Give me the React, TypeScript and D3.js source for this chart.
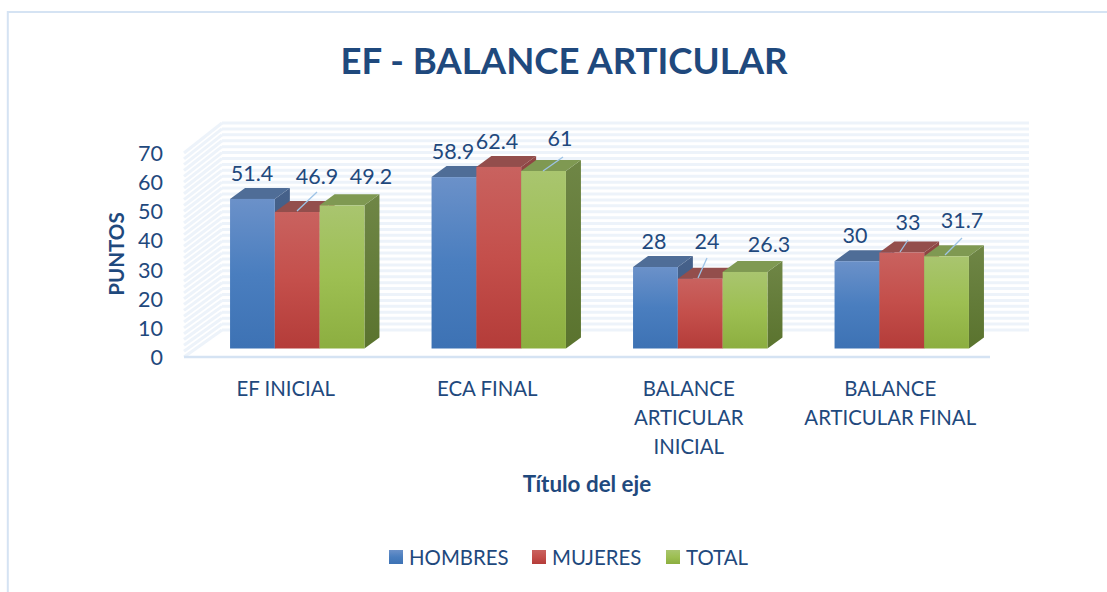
import React from "react";
import * as d3 from "d3";

const chartTitle = "EF - BALANCE ARTICULAR";
const yTitle = "PUNTOS";
const xTitle = "Título del eje";
const categories = ["EF INICIAL", "ECA FINAL", "BALANCE ARTICULAR INICIAL", "BALANCE ARTICULAR FINAL"];
const categoryLines = [["EF INICIAL"], ["ECA FINAL"], ["BALANCE", "ARTICULAR", "INICIAL"], ["BALANCE", "ARTICULAR FINAL"]];
const seriesNames = ["HOMBRES", "MUJERES", "TOTAL"];
const hombres = [51.4, 58.9, 28, 30];
const mujeres = [46.9, 62.4, 24, 33];
const total = [49.2, 61, 26.3, 31.7];
const seriesValues = [hombres, mujeres, total];
const yTicks = [0, 10, 20, 30, 40, 50, 60, 70];

const labelPos: [number, number][][] = [
  [[252, 173], [453, 151], [654, 241], [855, 235]],
  [[317, 176], [497, 141], [707, 241], [908, 222]],
  [[371, 176], [560, 138], [769, 244], [962, 220]],
];
// leader lines: [category, series, x1, y1, x2, y2]
const leaders = [
  [0, 1, 297, 211, 317, 192],
  [1, 2, 543, 171, 563, 157],
  [2, 1, 698, 278, 707, 258],
  [3, 1, 900, 252, 908, 240],
  [3, 2, 945, 255, 962, 238],
];

const palette = [
  { id: "b", stops: ["#6b91c9", "#4a7ebf", "#3d72b4"], top: "#4f6d97", side: ["#46618a", "#3b5a85"] },
  { id: "r", stops: ["#c9625f", "#c44f4b", "#b43c39"], top: "#934e4c", side: ["#8f4644", "#7c3432"] },
  { id: "g", stops: ["#a9c56f", "#9dbf52", "#8cae40"], top: "#7f9952", side: ["#6f8646", "#5a732e"] },
];

const TEXT = "#1f497d";
const FONT = "Lato, Carlito, Calibri, sans-serif";
const DX = 15;
const DY = -11;

export default function App() {
  const yBar = d3.scaleLinear().domain([0, 70]).range([348.5, 144.8]);
  const yAxis = d3.scaleLinear().domain([0, 70]).range([357, 153]);
  const yWall = d3.scaleLinear().domain([0, 70]).range([330, 123]);
  const xGroup = d3.scaleBand<number>().domain(d3.range(categories.length)).range([184, 990]);
  const barW = 44.8;
  const barLeft = (c: number, s: number) => (xGroup(c) as number) + xGroup.bandwidth() / 2 - 1.5 * barW + s * barW + 12.5;
  const floorY = yAxis(0);
  const stripes = yWall.ticks(35);

  return (
    <svg width={1107} height={592} style={{ position: "absolute", left: 0, top: 0, background: "#fff" }} fontFamily={FONT}>
      <defs>
        {palette.map((p) => (
          <React.Fragment key={p.id}>
            <linearGradient id={`f${p.id}`} x1="0" y1="0" x2="0" y2="1">
              <stop offset="0" stopColor={p.stops[0]} />
              <stop offset="0.5" stopColor={p.stops[1]} />
              <stop offset="1" stopColor={p.stops[2]} />
            </linearGradient>
            <linearGradient id={`s${p.id}`} x1="0" y1="0" x2="0" y2="1">
              <stop offset="0" stopColor={p.side[0]} />
              <stop offset="1" stopColor={p.side[1]} />
            </linearGradient>
          </React.Fragment>
        ))}
      </defs>

      <path d="M7.8 592V12H1107" fill="none" stroke="#d5e3f3" strokeWidth={2} />

      {stripes.map((t) => (
        <g key={t} stroke="#edf3fa" strokeWidth={3} fill="none">
          <line x1={222} x2={1029} y1={yWall(t)} y2={yWall(t)} />
          <line x1={184} x2={222} y1={yAxis(t)} y2={yWall(t)} />
        </g>
      ))}
      <line x1={184} x2={990} y1={floorY} y2={floorY} stroke="#d5e3f3" strokeWidth={2.4} />

      {categories.map((_, c) => (
        <g key={c}>
          {seriesValues.map((vals, s) => {
            const x0 = barLeft(c, s);
            const x1 = x0 + barW;
            const yT = yBar(vals[c]);
            const yB = yBar(0);
            const p = palette[s];
            return (
              <g key={s}>
                <path d={`M${x1} ${yT}L${x1 + DX} ${yT + DY}V${yB + DY}L${x1} ${yB}Z`} fill={`url(#s${p.id})`} />
                <path d={`M${x0} ${yT}L${x0 + DX} ${yT + DY}H${x1 + DX}L${x1} ${yT}Z`} fill={p.top} />
                <rect x={x0} y={yT} width={barW} height={yB - yT} fill={`url(#f${p.id})`} />
              </g>
            );
          })}
        </g>
      ))}

      {leaders.map((l, i) => (
        <line key={i} x1={l[2]} y1={l[3]} x2={l[4]} y2={l[5]} stroke="#9dc3e6" strokeWidth={1.3} />
      ))}

      {seriesValues.map((vals, s) =>
        vals.map((v, c) => (
          <text key={`${s}-${c}`} x={labelPos[s][c][0]} y={labelPos[s][c][1]} textAnchor="middle" dominantBaseline="central" fontSize={21.5} fill={TEXT}>
            {v}
          </text>
        ))
      )}

      <text x={564} y={60} textAnchor="middle" dominantBaseline="central" fontSize={36.6} fontWeight={700} fill={TEXT}>
        {chartTitle}
      </text>

      {yTicks.map((t) => (
        <text key={t} x={163} y={yAxis(t)} textAnchor="end" dominantBaseline="central" fontSize={21.5} fill={TEXT}>
          {t}
        </text>
      ))}
      <text transform="translate(116,254) rotate(-90)" textAnchor="middle" dominantBaseline="central" fontSize={20.5} fontWeight={700} fill={TEXT}>
        {yTitle}
      </text>

      {categoryLines.map((lines, c) =>
        lines.map((ln, i) => (
          <text key={`${c}-${i}`} x={(xGroup(c) as number) + xGroup.bandwidth() / 2 + 1} y={388 + i * 29} textAnchor="middle" dominantBaseline="central" fontSize={20.4} fill={TEXT}>
            {ln}
          </text>
        ))
      )}
      <text x={587} y={483} textAnchor="middle" dominantBaseline="central" fontSize={22.4} fontWeight={700} fill={TEXT}>
        {xTitle}
      </text>

      {seriesNames.map((n, s) => {
        const swatchX = [389, 532, 666][s];
        return (
          <g key={n}>
            <rect x={swatchX} y={550} width={14} height={14} fill={`url(#f${palette[s].id})`} />
            <text x={swatchX + 20} y={556.5} dominantBaseline="central" fontSize={20.4} fill={TEXT}>
              {n}
            </text>
          </g>
        );
      })}
    </svg>
  );
}
